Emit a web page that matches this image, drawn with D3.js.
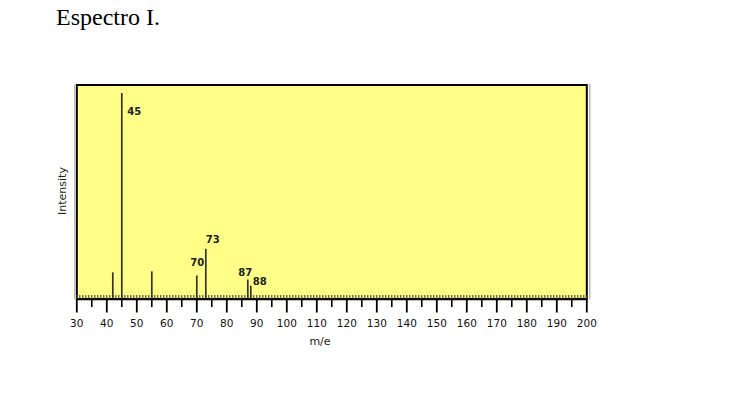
<!DOCTYPE html>
<html><head><meta charset="utf-8">
<script src="https://cdn.jsdelivr.net/npm/d3@7"></script>
<style>body{margin:0;background:#fff}</style>
</head><body>
<svg id="c" width="736" height="400"></svg>
<script>
const mz = [42, 45, 55, 70, 73, 87, 88];
const intensity = [12.5, 100, 13, 11, 24, 9, 6];
const peakLabels = ["", "45", "", "70", "73", "87", "88"];
const xTicks = [30,40,50,60,70,80,90,100,110,120,130,140,150,160,170,180,190,200];
const title = "Espectro I.";
const xTitle = "m/e";
const yTitle = "Intensity";

const svg = d3.select("#c");
const x = d3.scaleLinear().domain([30,200]).range([76.8,586.8]);
const y = d3.scaleLinear().domain([0,100]).range([298,93]);
const boxTop = 85, boxBottom = 299;

svg.append("text").attr("x",56).attr("y",25).attr("font-family","Liberation Serif")
  .attr("font-size",24).attr("fill","#000").text(title);

// shadow lines
svg.append("line").attr("x1",74.5).attr("x2",74.5).attr("y1",boxTop).attr("y2",boxBottom).attr("stroke","#bbb").attr("stroke-width",1);
svg.append("line").attr("x1",589.8).attr("x2",589.8).attr("y1",boxTop-1).attr("y2",boxBottom).attr("stroke","#bbb").attr("stroke-width",1.5);

svg.append("rect").attr("x",x(30)).attr("y",boxTop).attr("width",x(200)-x(30)).attr("height",boxBottom-boxTop)
  .attr("fill","#ffff88").attr("stroke","#000").attr("stroke-width",2);

// inner minor hatch
svg.append("g").selectAll("line").data(d3.range(30,201,1)).join("line")
  .attr("x1",d=>x(d)).attr("x2",d=>x(d)).attr("y1",295).attr("y2",boxBottom)
  .attr("stroke","#444").attr("stroke-width",1.1);

// peaks
svg.append("g").selectAll("line").data(mz).join("line")
  .attr("x1",d=>x(d)).attr("x2",d=>x(d))
  .attr("y1",y(0)).attr("y2",(d,i)=>y(intensity[i]))
  .attr("stroke","#333").attr("stroke-width",1.7);

const lbl = svg.append("g").attr("font-family","DejaVu Sans").attr("font-size",10).attr("font-weight","bold").attr("fill","#222");
const off = {"45":[5.5,22,"start"],"70":[0.5,-9,"middle"],"73":[0,-6,"start"],"87":[-2.5,-4,"middle"],"88":[2,-1,"start"]};
mz.forEach((m,i)=>{
  const t = peakLabels[i]; if(!t) return;
  const o = off[t];
  lbl.append("text").attr("x",x(m)+o[0]).attr("y",y(intensity[i])+o[1]).attr("text-anchor",o[2]).text(t);
});

// bottom axis
const ax = svg.append("g").attr("transform",`translate(0,${boxBottom+0.5})`);
ax.append("line").attr("x1",x(30)).attr("x2",x(200)).attr("stroke","#000").attr("stroke-width",1.5);
ax.selectAll("line.mn").data(d3.range(35,200,10)).join("line").attr("class","mn")
  .attr("x1",d=>x(d)).attr("x2",d=>x(d)).attr("y1",0).attr("y2",7.5).attr("stroke","#000").attr("stroke-width",1.6);
ax.selectAll("line.mj").data(xTicks).join("line").attr("class","mj")
  .attr("x1",d=>x(d)).attr("x2",d=>x(d)).attr("y1",0).attr("y2",13).attr("stroke","#000").attr("stroke-width",1.8);
ax.selectAll("text").data(xTicks).join("text")
  .attr("x",d=>x(d)).attr("y",27).attr("text-anchor","middle")
  .attr("font-family","DejaVu Sans").attr("font-size",10.5).attr("fill","#111").text(d=>d);

svg.append("text").attr("x",320).attr("y",345).attr("text-anchor","middle")
  .attr("font-family","DejaVu Sans").attr("font-size",11).attr("fill","#222").text(xTitle);
svg.append("text").attr("transform","translate(66,191) rotate(-90)").attr("text-anchor","middle")
  .attr("font-family","DejaVu Sans").attr("font-size",11).attr("fill","#222").text(yTitle);
</script>
</body></html>
